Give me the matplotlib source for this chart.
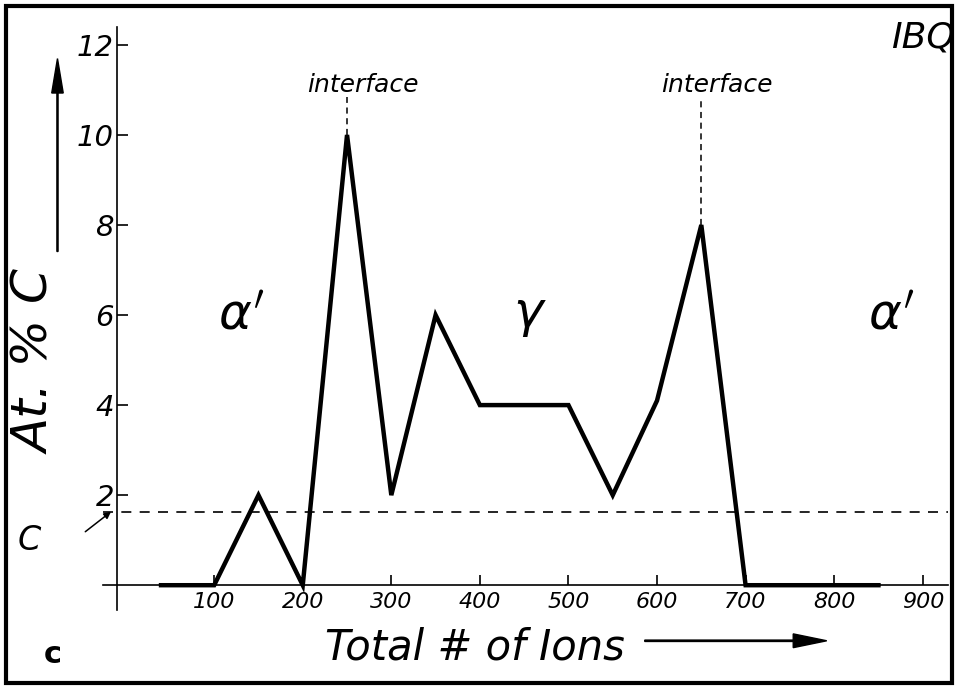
import matplotlib.pyplot as plt
from matplotlib.patches import Rectangle, FancyArrow

# ===================== Data =====================
ions = [40, 100, 150, 200, 250, 300, 350, 400, 500, 550, 600, 650, 700, 850]
carbon = [0, 0, 2, 0, 10, 2, 6, 4, 4, 2, 4.1, 8, 0, 0]
x_ticks = [100, 200, 300, 400, 500, 600, 700, 800, 900]
y_ticks = [2, 4, 6, 8, 10, 12]
c_level = 1.62
interfaces = [(250, 10), (650, 8)]
phases = [(130, '$\\alpha^{\\prime}$'), (457, '$\\gamma$'), (864, '$\\alpha^{\\prime}$')]

# ===================== Figure =====================
fig = plt.figure(figsize=(9.58, 6.89), dpi=100)
ax = fig.add_axes([0.108, 0.1147, 0.882, 0.8463])
ax.set_xlim(-25, 929)
ax.set_ylim(-0.55, 12.4)

font = dict(family='DejaVu Sans', style='italic', fontweight='light')

for s in ['top', 'right']:
    ax.spines[s].set_visible(False)
ax.spines['bottom'].set_position(('data', 0))
ax.spines['left'].set_position(('data', -10))
ax.spines['bottom'].set_linewidth(1.2)
ax.spines['left'].set_linewidth(1.2)

ax.set_xticks(x_ticks)
ax.set_xticklabels([str(v) for v in x_ticks], fontsize=16, **font)
ax.set_yticks(y_ticks)
ax.set_yticklabels([str(v) for v in y_ticks], fontsize=21, **font)
ax.tick_params(axis='x', direction='in', length=7, width=1.2, pad=5)
ax.tick_params(axis='y', direction='in', length=8, width=1.2, pad=2)

# data line
ax.plot(ions, carbon, color='black', lw=3.2, solid_joinstyle='miter')

# C level dashed line
ax.axhline(c_level, color='black', lw=1.2, ls=(0, (6, 5)))

# interface markers
for x, y in interfaces:
    ax.plot([x, x], [y, 10.85], color='black', lw=1.1, ls=(0, (4, 3)))
    ax.text(x + 18, 11.1, 'interface', ha='center', va='center', fontsize=18, **font)

for x, lab in phases:
    ax.text(x, 6.0, lab, ha='center', va='center', fontsize=36)

fig.text(0.997, 0.945, 'IBQ', ha='right', va='center', fontsize=26, **font)

# axis labels
fig.text(0.038, 0.475, 'At. % C', rotation=90, ha='center', va='center', fontsize=36, **font)
fig.patches.append(FancyArrow(0.06, 0.635, 0, 0.23, width=0.0012,
                              head_width=0.012, head_length=0.05, color='black',
                              transform=fig.transFigure, figure=fig))
fig.text(0.652, 0.06, 'Total # of Ions', ha='right', va='center', fontsize=30, **font)
fig.patches.append(FancyArrow(0.673, 0.07, 0.155, 0, width=0.002,
                              head_width=0.02, head_length=0.035, color='black',
                              transform=fig.transFigure, figure=fig))

# C marker with arrow to dashed line
fig.text(0.03, 0.215, 'C', ha='center', va='center', fontsize=24, **font)
ax.annotate('', xy=(-14, c_level + 0.05), xytext=(-48, 1.15), xycoords='data',
            arrowprops=dict(arrowstyle='-|>', color='black', lw=1.1), annotation_clip=False)

fig.text(0.055, 0.05, 'c', ha='center', va='center', fontsize=22, fontweight='bold')

# frame around figure
fig.patches.append(Rectangle((0.006, 0.008), 0.988, 0.984, fill=False, lw=3,
                             edgecolor='black', transform=fig.transFigure, figure=fig))

fig.savefig('out.png', dpi=100)
